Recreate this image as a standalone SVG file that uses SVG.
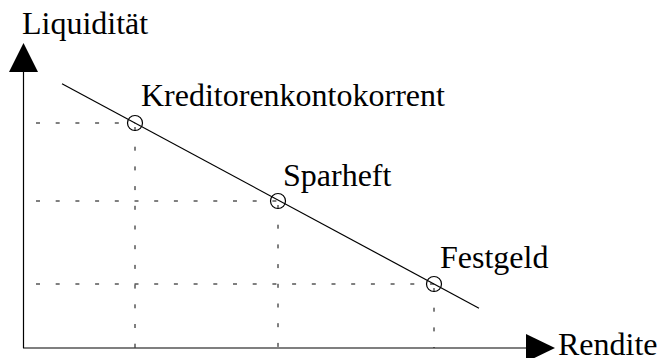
<svg xmlns="http://www.w3.org/2000/svg" width="665" height="358" viewBox="0 0 665 358">
<style>
  .axis { stroke: #000; stroke-width: 1.2; fill: none; }
  .dash { stroke: #000; stroke-width: 1; stroke-dasharray: 4 15.7; fill: none; }
  .line { stroke: #000; stroke-width: 1.2; fill: none; }
  .pt { stroke: #000; stroke-width: 1.2; fill: none; }
  .head { fill: #000; stroke: none; }
</style>
<rect width="665" height="358" fill="#fff"/>
<g id="connectors">
  <line class="dash" x1="36" y1="123" x2="135" y2="123"/>
  <line class="dash" x1="36" y1="201" x2="278" y2="201"/>
  <line class="dash" x1="36" y1="284" x2="434" y2="284"/>
  <line class="dash" x1="135" y1="127" x2="135" y2="348"/>
  <line class="dash" x1="278" y1="205" x2="278" y2="348"/>
  <line class="dash" x1="434" y1="288" x2="434" y2="348"/>
  <line class="line" x1="62" y1="83.7" x2="479" y2="308.2"/>
</g>
<g id="axis-y">
  <line class="axis" x1="23.5" y1="72" x2="23.5" y2="348"/>
  <polygon class="head" points="23.5,43 9,72 38,72"/>
  <text x="22" y="34" font-family="Liberation Serif" font-size="32">Liquidität</text>
</g>
<g id="axis-x">
  <line class="axis" x1="23" y1="348" x2="527" y2="348"/>
  <polygon class="head" points="555,348 526,334 526,362"/>
  <text x="558" y="355" font-family="Liberation Serif" font-size="32">Rendite</text>
</g>
<g id="kreditorenkontokorrent">
  <circle class="pt" cx="135" cy="123" r="7.5"/>
  <text x="141" y="106" font-family="Liberation Serif" font-size="32">Kreditorenkontokorrent</text>
</g>
<g id="sparheft">
  <circle class="pt" cx="278" cy="201" r="7.5"/>
  <text x="283" y="186" font-family="Liberation Serif" font-size="32">Sparheft</text>
</g>
<g id="festgeld">
  <circle class="pt" cx="434" cy="284" r="7.5"/>
  <text x="440" y="268" font-family="Liberation Serif" font-size="32">Festgeld</text>
</g>
</svg>
